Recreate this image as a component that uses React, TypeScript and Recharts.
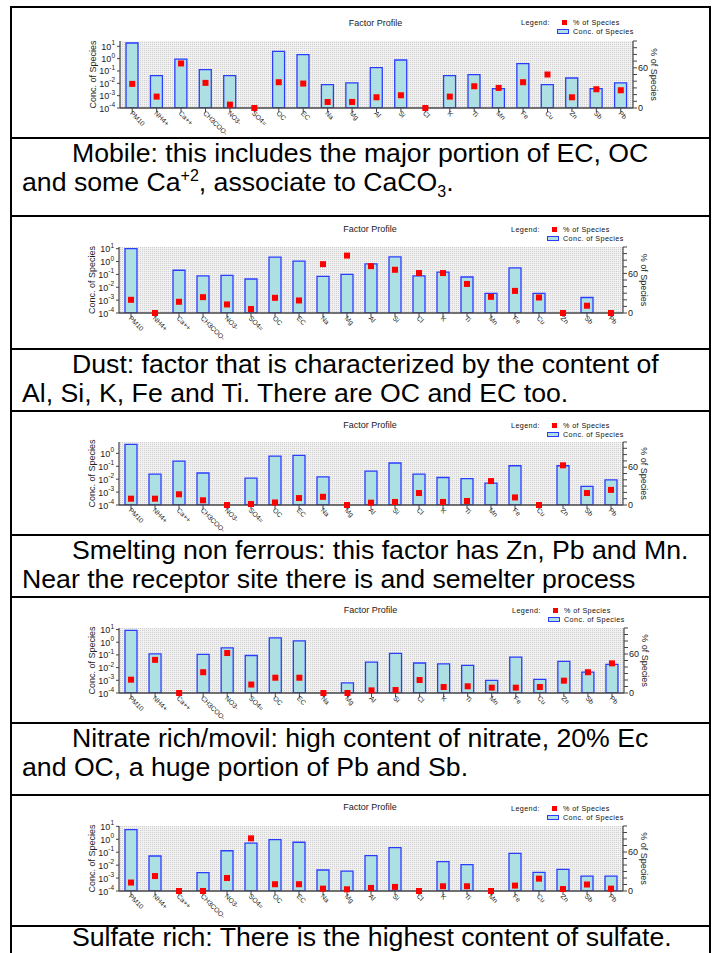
import React from 'react';
import { ComposedChart, Bar, Line, XAxis, YAxis, CartesianGrid, Legend } from 'recharts';

// ---------- DATA ----------
const species = ['PM10', 'NH4+', 'Ca++', 'CH3COO-', 'NO3-', 'SO4=', 'OC', 'EC', 'Na', 'Mg', 'Al', 'Si', 'Cl', 'K', 'Ti', 'Mn', 'Fe', 'Cu', 'Zn', 'Sb', 'Pb'];

const mobileConc = [18.6, 0.042, 0.9, 0.13, 0.042, null, 3.9, 2.1, 0.0078, 0.011, 0.19, 0.78, null, 0.042, 0.05, 0.0037, 0.39, 0.0078, 0.027, 0.0037, 0.011];
const mobilePct = [36, 17, 66.5, 37.5, 5, 0, 38.5, 36.5, 9, 9, 16, 19, 0, 17, 32.5, 30, 38.5, 50, 16, 28, 26.5];

const dustConc = [10, null, 0.21, 0.076, 0.085, 0.044, 2.2, 1.07, 0.07, 0.1, 0.66, 2.3, 0.076, 0.15, 0.063, 0.0033, 0.32, 0.0033, null, 0.0016, null];
const dustPct = [20, 0, 17, 24, 13, 6, 23, 19, 74, 87, 71, 65.5, 60.5, 60.5, 44, 24.5, 33.5, 23.5, 0, 11, 0];

const smeltConc = [5.0, 0.025, 0.25, 0.03, null, 0.012, 0.62, 0.69, 0.015, null, 0.042, 0.18, 0.025, 0.0135, 0.011, 0.005, 0.11, null, 0.11, 0.0028, 0.0089];
const smeltPct = [10, 10, 17, 7.5, 0, 1.5, 4, 11, 13, 0, 3.7, 4.8, 19, 4.8, 6.4, 38, 12, 0, 63, 19, 24];

const nitrateConc = [8.7, 0.12, null, 0.11, 0.36, 0.09, 2.2, 1.27, null, 0.00063, 0.027, 0.13, 0.023, 0.02, 0.015, 0.00098, 0.068, 0.0012, 0.031, 0.0044, 0.018];
const nitratePct = [20.5, 51, 0, 32, 61.5, 13, 23.5, 23.5, 0, 0, 4, 4.6, 20, 9.2, 10.3, 8.2, 8.2, 9.2, 19, 32, 45.6];

const sulfateConc = [5.7, 0.051, null, 0.0026, 0.13, 0.5, 0.93, 0.59, 0.0042, 0.0035, 0.054, 0.23, null, 0.019, 0.011, null, 0.081, 0.0028, 0.0047, 0.0014, 0.0014];
const sulfatePct = [13, 23, 0, 0, 20, 81, 10.4, 10.4, 3.6, 2.6, 4.7, 6.3, 0, 7.3, 7.3, 0, 8.3, 19, 3, 10, 3.6];

// exponent of the top of each log axis
const concAxisMaxExp = [1.43, 1.13, 0.88, 1.12, 1.03];
const logTickValues = [1e-4, 1e-3, 1e-2, 1e-1, 1, 10];
const pctTickValues = [0, 10, 20, 30, 40, 50, 60, 70, 80, 90, 100];
const pctLabelled = [0, 60];

const captionLines: React.ReactNode[][] = [
  ['Mobile: this includes the major portion of EC, OC', <>and some Ca<sup style={{ fontSize: 16, verticalAlign: 'super', lineHeight: 0 }}>+2</sup>, associate to CaCO<sub style={{ fontSize: 16, verticalAlign: 'sub', lineHeight: 0 }}>3</sub>.</>],
  ['Dust: factor that is characterized by the content of', 'Al, Si, K, Fe and Ti. There are OC and EC too.'],
  ['Smelting non ferrous: this factor has Zn, Pb and Mn.', 'Near the receptor site there is and semelter process'],
  ['Nitrate rich/movil: high content of nitrate, 20% Ec', 'and OC, a huge portion of Pb and Sb.'],
  ['Sulfate rich: There is the highest content of sulfate.'],
];

// ---------- LAYOUT ----------
const FONT = '"Liberation Sans", Arial, Helvetica, sans-serif';
const LINE_TOPS = [6, 137, 215, 348, 410, 534, 596, 722, 794, 925];
const BOX_LEFT = 10;
const BOX_RIGHT = 711;
const INNER_LEFT = 12;
const INNER_WIDTH = 697;

const panelGeom = [
  { plotLeft: 120, plotRight: 633, plotTop: 41, plotBottom: 108, titleY: 23, legendY: 22 },
  { plotLeft: 119, plotRight: 623, plotTop: 247, plotBottom: 313, titleY: 229, legendY: 229 },
  { plotLeft: 119, plotRight: 623, plotTop: 442, plotBottom: 505, titleY: 425, legendY: 425 },
  { plotLeft: 119, plotRight: 624, plotTop: 628, plotBottom: 693, titleY: 610, legendY: 610 },
  { plotLeft: 119, plotRight: 623, plotTop: 826, plotBottom: 891, titleY: 807, legendY: 808 },
];
const panelSeries = [
  [mobileConc, mobilePct],
  [dustConc, dustPct],
  [smeltConc, smeltPct],
  [nitrateConc, nitratePct],
  [sulfateConc, sulfatePct],
];

const BAR_FILL = '#aee0e3';
const BAR_STROKE = '#2b3cff';
const AXIS = '#444';

const squareDot = (props: any) => {
  const { cx, cy, index } = props;
  if (cx == null || cy == null || isNaN(cx) || isNaN(cy)) return <g key={`sq${index}`} />;
  return <rect key={`sq${index}`} x={cx - 3} y={cy - 3} width={6} height={6} fill="#ff0000" />;
};

const XTick = (props: any) => {
  const { x, y, payload } = props;
  return (
    <text x={x - 1} y={y} transform={`rotate(45, ${x - 1}, ${y})`} fontSize={6.8} fill="#222" textAnchor="start" dominantBaseline="central">
      {payload.value}
    </text>
  );
};

const LogTick = (props: any) => {
  const { x, y, payload } = props;
  const exp = Math.round(Math.log10(payload.value));
  return (
    <text x={x} y={y + 3.5} textAnchor="end" fontSize={9} fill="#222">
      <tspan>10</tspan>
      <tspan dy={-4.5} fontSize={6.5}>{exp}</tspan>
    </text>
  );
};

const legendContent = (props: any) => {
  const payload = props.payload || [];
  const pctItem = payload.find((p: any) => p.dataKey === 'pct');
  const concItem = payload.find((p: any) => p.dataKey === 'conc');
  return (
    <div style={{ position: 'relative', width: 130, height: 20, fontSize: 7.2, letterSpacing: 0.4, color: '#111', fontFamily: FONT, lineHeight: '9px' }}>
      <span style={{ position: 'absolute', left: 0, top: 0, whiteSpace: 'nowrap' }}>Legend:</span>
      <span style={{ position: 'absolute', left: 41, top: 2, width: 5, height: 5, background: '#ff0000' }} />
      <span style={{ position: 'absolute', left: 52, top: 0, whiteSpace: 'nowrap' }}>{pctItem?.value ?? '% of Species'}</span>
      <span style={{ position: 'absolute', left: 36, top: 11, width: 10, height: 3, background: BAR_FILL, border: `1px solid ${BAR_STROKE}` }} />
      <span style={{ position: 'absolute', left: 52, top: 9, whiteSpace: 'nowrap' }}>{concItem?.value ?? 'Conc. of Species'}</span>
    </div>
  );
};

function Panel({ idx }: { idx: number }) {
  const top = LINE_TOPS[idx * 2] + 2;
  const height = LINE_TOPS[idx * 2 + 1] - top;
  const g = panelGeom[idx];
  const [conc, pct] = panelSeries[idx];
  const data = species.map((s, i) => ({ species: s, conc: conc[i], pct: pct[i] }));
  const yMax = Math.pow(10, concAxisMaxExp[idx]);
  const ticks = logTickValues.filter((t) => t <= yMax * 1.0001);
  const midY = (g.plotTop + g.plotBottom) / 2 - top;
  const leftLabelX = g.plotLeft - INNER_LEFT - 27;
  const rightLabelX = g.plotRight - INNER_LEFT + 21;
  const titleCX = (g.plotLeft + g.plotRight) / 2 - 1 - INNER_LEFT;

  return (
    <div style={{ position: 'absolute', left: INNER_LEFT, top, width: INNER_WIDTH, height }}>
      <div style={{ position: 'absolute', left: titleCX - 100, width: 200, top: g.titleY - top - 6, height: 12, lineHeight: '12px', fontSize: 9, color: '#222', textAlign: 'center' }}>
        Factor Profile
      </div>
      <ComposedChart width={INNER_WIDTH} height={height} data={data} margin={{ top: g.plotTop - top, right: 0, bottom: 0, left: 0 }}>
        <CartesianGrid yAxisId="left" fill="url(#meshBg)" horizontal={false} vertical={false} />
        <XAxis
          dataKey="species"
          type="category"
          interval={0}
          height={top + height - g.plotBottom}
          tickSize={4}
          tickMargin={0}
          tick={<XTick />}
          tickLine={{ stroke: AXIS }}
          axisLine={{ stroke: AXIS, strokeWidth: 1.4 }}
        />
        <XAxis xAxisId="top" orientation="top" dataKey="species" height={0} tick={false} tickLine={false} axisLine={{ stroke: '#666', strokeWidth: 1.2 }} />
        <YAxis
          yAxisId="left"
          type="number"
          scale="log"
          domain={[1e-4, yMax]}
          allowDataOverflow
          ticks={ticks}
          interval={0}
          width={g.plotLeft - INNER_LEFT}
          tickSize={3}
          tickMargin={2}
          tick={<LogTick />}
          tickLine={{ stroke: AXIS }}
          axisLine={{ stroke: AXIS, strokeWidth: 1.2 }}
          label={() => (
            <text x={leftLabelX} y={midY} transform={`rotate(-90, ${leftLabelX}, ${midY})`} textAnchor="middle" dominantBaseline="central" fontSize={9} fill="#222">
              Conc. of Species
            </text>
          )}
        />
        <YAxis
          yAxisId="right"
          orientation="right"
          type="number"
          domain={[0, 100]}
          ticks={pctTickValues}
          interval={0}
          width={709 - g.plotRight}
          tickSize={4}
          tickMargin={1}
          tickFormatter={(v: number) => (pctLabelled.includes(v) ? String(v) : '')}
          tick={{ fontSize: 9, fill: '#222' }}
          tickLine={{ stroke: AXIS }}
          axisLine={{ stroke: AXIS, strokeWidth: 1.2 }}
          label={() => (
            <text x={rightLabelX} y={midY} transform={`rotate(90, ${rightLabelX}, ${midY})`} textAnchor="middle" dominantBaseline="central" fontSize={9} fill="#222">
              % of Species
            </text>
          )}
        />
        <Bar yAxisId="left" dataKey="conc" name="Conc. of Species" fill={BAR_FILL} stroke={BAR_STROKE} strokeWidth={1.3} barSize={12} isAnimationActive={false} />
        <Line yAxisId="right" dataKey="pct" name="% of Species" stroke="none" dot={squareDot} activeDot={false} isAnimationActive={false} />
        <Legend
          layout="horizontal"
          verticalAlign="middle"
          align="center"
          content={legendContent}
          wrapperStyle={{ left: g.plotRight - 112 - INNER_LEFT, top: g.legendY - 4.5 - top, width: 130, height: 20 }}
        />
      </ComposedChart>
    </div>
  );
}

function Caption({ idx }: { idx: number }) {
  const top = LINE_TOPS[idx * 2 + 1] + 2;
  const lines = captionLines[idx];
  const last = idx === 4;
  const lh = last ? 21 : 29;
  return (
    <div style={{ position: 'absolute', left: INNER_LEFT, top, width: INNER_WIDTH, fontSize: 26.67, lineHeight: `${lh}px`, color: '#000' }}>
      {lines.map((ln, i) => (
        <div key={i} style={{ paddingLeft: i === 0 ? 60 : 10, whiteSpace: 'nowrap', height: lh }}>{ln}</div>
      ))}
    </div>
  );
}

export default function App() {
  return (
    <div style={{ position: 'absolute', left: 0, top: 0, width: 712, height: 953, background: '#fff', fontFamily: FONT, overflow: 'hidden' }}>
      <svg width={0} height={0} style={{ position: 'absolute' }}>
        <defs>
          <pattern id="meshBg" width={2} height={2} patternUnits="userSpaceOnUse">
            <rect width={2} height={2} fill="#f1f1f1" />
            <rect width={1} height={1} fill="#cfcfcf" />
          </pattern>
        </defs>
      </svg>
      {[0, 1, 2, 3, 4].map((i) => <Panel key={`p${i}`} idx={i} />)}
      {[0, 1, 2, 3, 4].map((i) => <Caption key={`c${i}`} idx={i} />)}
      {/* table borders */}
      <div style={{ position: 'absolute', left: BOX_LEFT, top: LINE_TOPS[0], width: 2, height: 953 - LINE_TOPS[0], background: '#000' }} />
      <div style={{ position: 'absolute', left: BOX_RIGHT - 2, top: LINE_TOPS[0], width: 2, height: 953 - LINE_TOPS[0], background: '#000' }} />
      {LINE_TOPS.map((y, i) => (
        <div key={`h${i}`} style={{ position: 'absolute', left: BOX_LEFT, top: y, width: BOX_RIGHT - BOX_LEFT, height: 2, background: '#000' }} />
      ))}
    </div>
  );
}
